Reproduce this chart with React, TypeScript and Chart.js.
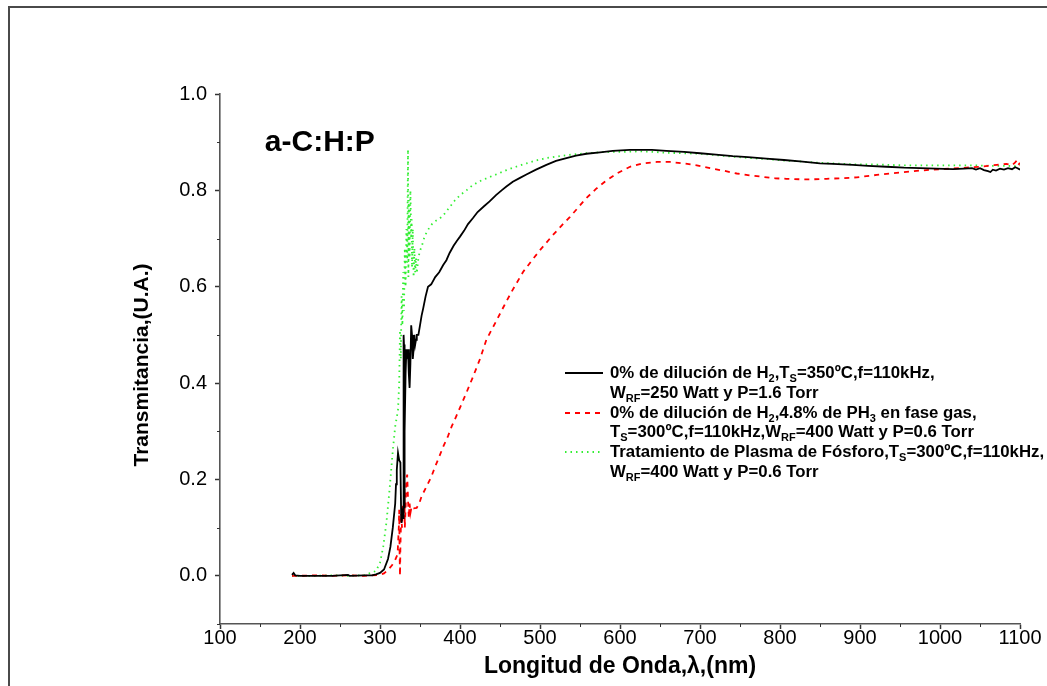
import React, { useEffect, useRef } from 'react';
import { Chart, registerables } from 'chart.js';

Chart.register(...registerables);

// ---- Data (wavelength in nm, transmittance in U.A.) ----
const blackWl = [190, 192, 194, 200, 220, 240, 260, 262, 280, 290, 295, 300, 305, 310, 313, 316, 319, 320, 321, 322.5, 324, 325.5, 326.5, 327, 328, 329, 329.5, 330, 330.5, 331, 332, 333, 334, 335, 336, 337, 338, 339, 340, 341, 342, 343, 344, 345, 346, 348, 350, 352, 354, 357, 360, 364, 369, 374, 379, 383, 387, 392, 396, 400, 405, 410, 416, 422, 430, 437, 445, 452, 458, 466, 475, 483, 495, 508, 520, 533, 545, 558, 575, 591, 612, 625, 640, 658, 680, 700, 720, 741, 760, 783, 805, 825, 850, 866, 891, 910, 933, 955, 975, 995, 1016, 1030, 1040, 1045, 1050, 1055, 1060, 1063, 1066, 1070, 1075, 1080, 1085, 1090, 1094, 1097, 1100];
const blackT = [0.002, 0.006, 0.001, 0.0, 0.0, 0.0, 0.002, 0.0, 0.001, 0.001, 0.003, 0.006, 0.013, 0.035, 0.06, 0.1, 0.15, 0.19, 0.22, 0.255, 0.24, 0.235, 0.12, 0.11, 0.13, 0.12, 0.5, 0.48, 0.14, 0.3, 0.42, 0.47, 0.46, 0.47, 0.42, 0.39, 0.44, 0.52, 0.5, 0.45, 0.47, 0.5, 0.48, 0.49, 0.5, 0.5, 0.52, 0.54, 0.555, 0.58, 0.6, 0.605, 0.62, 0.63, 0.645, 0.655, 0.67, 0.685, 0.695, 0.704, 0.716, 0.73, 0.742, 0.755, 0.767, 0.777, 0.79, 0.8, 0.808, 0.818, 0.826, 0.833, 0.843, 0.853, 0.861, 0.867, 0.872, 0.876, 0.879, 0.882, 0.884, 0.884, 0.884, 0.882, 0.88, 0.877, 0.874, 0.871, 0.869, 0.866, 0.863, 0.86, 0.856, 0.855, 0.853, 0.851, 0.849, 0.847, 0.846, 0.845, 0.844, 0.845, 0.846, 0.843, 0.846, 0.842, 0.84, 0.838, 0.843, 0.841, 0.845, 0.843, 0.846, 0.844, 0.848, 0.846, 0.843];

const redWl = [190, 200, 220, 240, 260, 280, 300, 305, 310, 315, 319, 322, 323.5, 324, 324.5, 325, 325.5, 326.5, 327.5, 328.5, 329.5, 330.5, 331, 332, 333, 334, 335, 336, 337, 338, 339.6, 342, 345.8, 349, 352, 358, 364, 369, 374, 379, 385, 389.6, 395, 400, 408, 416, 425, 433, 446, 455, 464.6, 479, 490, 500, 516, 527, 537.5, 548, 558, 570, 581, 596, 612.5, 629, 646, 662.5, 679, 696, 712.5, 729, 746, 762.5, 779, 794, 808, 825, 841, 858, 875, 896, 921, 950, 975, 1000, 1025, 1040, 1050, 1060, 1071, 1083, 1090, 1094, 1096, 1098, 1100];
const redT = [0.0, 0.0, 0.001, 0.0, 0.001, 0.0, 0.002, 0.005, 0.012, 0.022, 0.033, 0.045, 0.1, 0.137, 0.05, 0.0, 0.06, 0.13, 0.1, 0.15, 0.12, 0.18, 0.1, 0.14, 0.2, 0.21, 0.16, 0.12, 0.15, 0.13, 0.144, 0.14, 0.141, 0.15, 0.165, 0.185, 0.205, 0.227, 0.247, 0.268, 0.29, 0.31, 0.33, 0.349, 0.38, 0.412, 0.45, 0.49, 0.531, 0.56, 0.59, 0.631, 0.655, 0.676, 0.707, 0.727, 0.745, 0.765, 0.784, 0.803, 0.818, 0.835, 0.849, 0.856, 0.859, 0.859, 0.856, 0.852, 0.846, 0.841, 0.835, 0.831, 0.828, 0.825, 0.824, 0.823, 0.823, 0.824, 0.825, 0.827, 0.832, 0.837, 0.841, 0.844, 0.846, 0.848, 0.849, 0.851, 0.853, 0.855, 0.852, 0.858, 0.862, 0.853, 0.857];

const greenWl = [190, 200, 220, 240, 260, 280, 295, 300, 304, 308, 312, 316, 319, 322.5, 324, 325, 326, 327, 328, 329, 330, 331, 332, 333, 334, 335, 335.5, 336, 337, 338, 339, 339.6, 340, 341, 342, 343, 344, 345, 346, 348, 350, 352, 355, 358, 362.5, 366, 370, 375, 380, 387.5, 393, 400, 408, 416, 426, 437.5, 448, 458, 470, 483, 495, 508, 520, 533, 545, 558, 575, 591, 605, 625, 640, 658, 680, 700, 720, 741, 762, 783, 805, 825, 850, 866, 891, 910, 933, 955, 975, 995, 1016, 1041, 1060, 1080, 1097, 1100];
const greenT = [0.0, 0.0, 0.0, 0.001, 0.0, 0.001, 0.01, 0.027, 0.06, 0.11, 0.18, 0.26, 0.31, 0.344, 0.4, 0.51, 0.45, 0.58, 0.52, 0.63, 0.55, 0.68, 0.6, 0.72, 0.65, 0.885, 0.62, 0.78, 0.66, 0.8, 0.7, 0.74, 0.64, 0.72, 0.62, 0.68, 0.63, 0.66, 0.628, 0.66, 0.675, 0.683, 0.7, 0.712, 0.725, 0.732, 0.737, 0.742, 0.75, 0.766, 0.778, 0.79, 0.8, 0.811, 0.82, 0.828, 0.835, 0.842, 0.849, 0.856, 0.862, 0.867, 0.87, 0.873, 0.875, 0.877, 0.879, 0.88, 0.88, 0.881, 0.88, 0.878, 0.877, 0.876, 0.873, 0.87, 0.867, 0.865, 0.862, 0.86, 0.857, 0.856, 0.854, 0.854, 0.853, 0.852, 0.852, 0.852, 0.852, 0.852, 0.851, 0.851, 0.85, 0.852];

const xTickLabels = ['100', '200', '300', '400', '500', '600', '700', '800', '900', '1000', '1100'];
const yTickLabels = ['0.0', '0.2', '0.4', '0.6', '0.8', '1.0'];

const xTitle = 'Longitud de Onda,\u03bb,(nm)';
const yTitle = 'Transmitancia,(U.A.)';
const annotation = 'a-C:H:P';

type Seg = [string, boolean];
const legendLines: Seg[][] = [
  [['0% de dilución de H', false], ['2', true], [',T', false], ['S', true], ['=350ºC,f=110kHz,', false]],
  [['W', false], ['RF', true], ['=250 Watt y P=1.6 Torr', false]],
  [['0% de dilución de H', false], ['2', true], [',4.8% de PH', false], ['3', true], [' en fase gas,', false]],
  [['T', false], ['S', true], ['=300ºC,f=110kHz,W', false], ['RF', true], ['=400 Watt y P=0.6 Torr', false]],
  [['Tratamiento de Plasma de Fósforo,T', false], ['S', true], ['=300ºC,f=110kHz,', false]],
  [['W', false], ['RF', true], ['=400 Watt y P=0.6 Torr', false]],
];

const FONT = '"Liberation Sans", Arial, Helvetica, sans-serif';

const seriesStyles = [
  { color: '#000000', dash: [] as number[], width: 1.8 },
  { color: '#ff0000', dash: [5, 5], width: 1.8 },
  { color: '#33ee33', dash: [1.5, 4], width: 1.8 },
];

function toPoints(xs: number[], ys: number[]) {
  return xs.map((x, i) => ({ x, y: ys[i] }));
}

function isMajorX(v: number) {
  return xTickLabels.includes(String(v));
}
function isMajorY(v: number) {
  return yTickLabels.includes((Math.round(v * 10) / 10).toFixed(1));
}

const overlayPlugin = {
  id: 'overlay',
  afterDraw(chart: any) {
    const ctx: CanvasRenderingContext2D = chart.ctx;
    const { left, right, top, bottom } = chart.chartArea;
    const xs = chart.scales.x;
    const ys = chart.scales.y;
    ctx.save();
    // outer frame
    ctx.strokeStyle = '#4a4a4a';
    ctx.lineWidth = 2;
    ctx.setLineDash([]);
    ctx.beginPath();
    ctx.moveTo(9, 686);
    ctx.lineTo(9, 7);
    ctx.lineTo(1047, 7);
    ctx.stroke();

    // minor ticks (shorter)
    ctx.strokeStyle = '#333';
    ctx.lineWidth = 1;
    ctx.beginPath();
    xs.ticks.forEach((t: any) => {
      if (!isMajorX(t.value)) {
        const px = Math.round(xs.getPixelForValue(t.value)) + 0.5;
        ctx.moveTo(px, bottom);
        ctx.lineTo(px, bottom + 3);
      }
    });
    ys.ticks.forEach((t: any) => {
      if (!isMajorY(t.value)) {
        const py = Math.round(ys.getPixelForValue(t.value)) + 0.5;
        ctx.moveTo(left, py);
        ctx.lineTo(left - 3, py);
      }
    });
    ctx.stroke();

    // axis titles
    ctx.fillStyle = '#000';
    ctx.textAlign = 'center';
    ctx.textBaseline = 'middle';
    ctx.font = `bold 23px ${FONT}`;
    ctx.fillText(xTitle, (left + right) / 2, 667);
    ctx.save();
    ctx.translate(142, 365);
    ctx.rotate(-Math.PI / 2);
    ctx.font = `bold 21px ${FONT}`;
    ctx.fillText(yTitle, 0, 0);
    ctx.restore();

    // annotation
    ctx.textAlign = 'left';
    ctx.font = `bold 30px ${FONT}`;
    ctx.fillText(annotation, xs.getPixelForValue(156), ys.getPixelForValue(0.898));

    // legend
    const rowY = [373, 393, 413, 432, 452, 472];
    const textX = 610;
    for (let s = 0; s < 3; s++) {
      const st = seriesStyles[s];
      ctx.strokeStyle = st.color;
      ctx.lineWidth = st.width;
      ctx.setLineDash(st.dash);
      ctx.beginPath();
      ctx.moveTo(565, rowY[s * 2]);
      ctx.lineTo(603, rowY[s * 2]);
      ctx.stroke();
    }
    ctx.setLineDash([]);
    ctx.fillStyle = '#000';
    ctx.textBaseline = 'middle';
    legendLines.forEach((segs, i) => {
      let x = textX;
      const y = rowY[i];
      segs.forEach(([t, sub]) => {
        ctx.font = sub ? `bold 11px ${FONT}` : `bold 16.8px ${FONT}`;
        ctx.fillText(t, x, sub ? y + 6 : y);
        x += ctx.measureText(t).width;
      });
    });
    ctx.restore();
  },
};

export default function App() {
  const ref = useRef<HTMLCanvasElement | null>(null);
  useEffect(() => {
    if (!ref.current) return;
    const sets = [
      toPoints(blackWl, blackT),
      toPoints(redWl, redT),
      toPoints(greenWl, greenT),
    ];
    const chart = new Chart(ref.current, {
      type: 'scatter',
      data: {
        datasets: sets.map((d, i) => ({
          data: d,
          showLine: true,
          borderColor: seriesStyles[i].color,
          borderWidth: seriesStyles[i].width,
          borderDash: seriesStyles[i].dash,
          pointRadius: 0,
          fill: false,
          tension: 0,
        })),
      },
      options: {
        responsive: false,
        animation: false,
        layout: { padding: { left: 0, top: 94, right: 27, bottom: 0 } },
        plugins: { legend: { display: false }, tooltip: { enabled: false } },
        scales: {
          x: {
            type: 'linear',
            min: 100,
            max: 1100,
            afterFit: (s: any) => { s.height = 62; },
            border: { display: true, color: '#555', width: 1.6 },
            grid: {
              display: true,
              drawOnChartArea: false,
              drawTicks: true,
              tickLength: 5,
              tickWidth: 1.5,
              tickColor: (c: any) => (c.tick && isMajorX(c.tick.value) ? '#333' : 'rgba(0,0,0,0)'),
            },
            ticks: {
              stepSize: 50,
              autoSkip: false,
              maxRotation: 0,
              padding: -3,
              color: '#000',
              font: { family: FONT, size: 20 },
              callback: (v: any) => (isMajorX(Number(v)) ? String(v) : ''),
            },
          },
          y: {
            type: 'linear',
            min: -0.1,
            max: 1.0,
            afterFit: (s: any) => { s.width = 220; },
            border: { display: true, color: '#555', width: 1.6 },
            grid: {
              display: true,
              drawOnChartArea: false,
              drawTicks: true,
              tickLength: 5,
              tickWidth: 1.5,
              tickColor: (c: any) => (c.tick && isMajorY(c.tick.value) ? '#333' : 'rgba(0,0,0,0)'),
            },
            ticks: {
              stepSize: 0.1,
              autoSkip: false,
              padding: 8,
              color: '#000',
              font: { family: FONT, size: 20 },
              callback: (v: any) => {
                const s = (Math.round(Number(v) * 10) / 10).toFixed(1);
                return yTickLabels.includes(s) ? s : '';
              },
            },
          },
        },
      },
      plugins: [overlayPlugin],
    });
    return () => chart.destroy();
  }, []);
  return (
    <div style={{ position: 'absolute', left: 0, top: 0, width: 1047, height: 686, background: '#fff' }}>
      <canvas ref={ref} width={1047} height={686} style={{ display: 'block' }} />
    </div>
  );
}
